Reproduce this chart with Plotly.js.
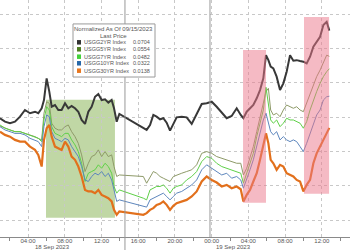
<!DOCTYPE html>
<html>
<head>
<meta charset="utf-8">
<script src="https://cdn.plot.ly/plotly-3.0.1.min.js"></script>
<style>html,body{margin:0;padding:0;background:#fff;}#chart{width:350px;height:250px;}</style>
</head>
<body>
<div id="chart"></div>
<script>
// Hours since 18 Sep 2023 00:00
const hours = [0.95,1.49,2.04,2.58,3.13,3.67,4.22,4.76,5.12,5.49,
5.74,6.03,6.32,6.58,6.94,7.30,7.66,8.03,8.39,8.75,
9.12,9.48,9.84,10.21,10.57,10.93,11.30,11.66,12.02,12.39,
12.75,13.11,13.37,13.66,13.95,
16.56,16.92,17.29,17.65,18.01,18.38,18.74,19.10,19.47,19.83,
20.19,20.74,21.28,21.83,22.37,22.92,23.46,24.01,24.55,25.10,
25.64,26.18,26.73,27.17,27.46,27.82,28.18,28.54,28.91,29.27,
29.63,29.92,30.18,30.43,30.72,31.08,31.45,31.81,32.17,32.54,
32.90,33.26,33.63,33.99,34.35,34.72,35.08,35.44,35.81,36.17,
36.53,36.82];

const usgg2yr = [0.0194,0.0174,0.0165,0.0174,0.0203,0.0242,0.0223,0.0232,0.0223,0.0252,
0.0300,0.0426,0.0349,0.0261,0.0271,0.0242,0.0242,0.0281,0.0252,0.0265,
0.0252,0.0232,0.0184,0.0161,0.0232,0.0261,0.0319,0.0335,0.0300,0.0304,
0.0285,0.0300,0.0252,0.0174,0.0219,
0.0141,0.0126,0.0155,0.0213,0.0203,0.0188,0.0194,0.0168,0.0122,0.0165,
0.0199,0.0203,0.0199,0.0161,0.0223,0.0277,0.0281,0.0290,0.0261,0.0227,
0.0194,0.0207,0.0252,0.0213,0.0194,0.0232,0.0252,0.0271,0.0310,0.0358,
0.0426,0.0561,0.0532,0.0494,0.0484,0.0436,0.0358,0.0397,0.0465,0.0561,
0.0529,0.0532,0.0527,0.0523,0.0513,0.0552,0.0610,0.0639,0.0668,0.0736,
0.0755,0.0704];

const usgg5yr = [0.0149,0.0136,0.0126,0.0116,0.0116,0.0106,0.0097,0.0087,0.0077,0.0068,
0.0223,0.0290,0.0281,0.0165,0.0136,0.0126,0.0126,0.0145,0.0155,0.0116,
0.0087,0.0048,-0.0019,-0.0116,-0.0068,-0.0029,-0.0019,0.0010,-0.0029,0.0000,
-0.0029,-0.0019,-0.0087,-0.0145,-0.0136,
-0.0145,-0.0184,-0.0145,-0.0116,-0.0126,-0.0145,-0.0155,-0.0165,-0.0174,-0.0145,
-0.0136,-0.0126,-0.0116,-0.0106,-0.0077,-0.0010,0.0000,-0.0010,-0.0029,-0.0039,
-0.0048,-0.0058,-0.0068,-0.0068,-0.0136,-0.0097,-0.0029,0.0029,0.0116,0.0194,
0.0281,0.0349,0.0368,0.0242,0.0213,0.0223,0.0203,0.0242,0.0271,0.0261,
0.0252,0.0261,0.0242,0.0232,0.0281,0.0339,0.0378,0.0436,0.0474,0.0523,
0.0561,0.0554];

const usgg7yr = [0.0155,0.0136,0.0126,0.0116,0.0116,0.0106,0.0097,0.0087,0.0077,0.0058,
0.0184,0.0261,0.0242,0.0145,0.0106,0.0097,0.0087,0.0106,0.0106,0.0068,
0.0039,0.0000,-0.0068,-0.0174,-0.0126,-0.0116,-0.0106,-0.0077,-0.0097,-0.0068,
-0.0087,-0.0126,-0.0203,-0.0242,-0.0223,
-0.0271,-0.0281,-0.0223,-0.0213,-0.0203,-0.0203,-0.0194,-0.0213,-0.0242,-0.0213,
-0.0203,-0.0194,-0.0165,-0.0145,-0.0116,-0.0058,-0.0029,-0.0039,-0.0068,-0.0087,
-0.0097,-0.0106,-0.0116,-0.0126,-0.0184,-0.0126,-0.0068,-0.0010,0.0087,0.0165,
0.0242,0.0374,0.0261,0.0184,0.0165,0.0184,0.0145,0.0165,0.0194,0.0184,
0.0184,0.0174,0.0165,0.0136,0.0174,0.0242,0.0300,0.0349,0.0397,0.0436,
0.0465,0.0482];

const usgg10yr = [0.0145,0.0126,0.0116,0.0106,0.0106,0.0097,0.0077,0.0068,0.0058,0.0029,
0.0145,0.0213,0.0203,0.0116,0.0077,0.0068,0.0058,0.0077,0.0068,0.0029,
0.0000,-0.0029,-0.0087,-0.0165,-0.0174,-0.0145,-0.0126,-0.0136,-0.0116,-0.0145,
-0.0126,-0.0165,-0.0223,-0.0290,-0.0281,
-0.0319,-0.0323,-0.0281,-0.0271,-0.0261,-0.0252,-0.0242,-0.0261,-0.0281,-0.0261,
-0.0242,-0.0232,-0.0213,-0.0194,-0.0165,-0.0106,-0.0077,-0.0097,-0.0116,-0.0136,
-0.0126,-0.0155,-0.0145,-0.0165,-0.0213,-0.0165,-0.0106,-0.0048,0.0029,0.0106,
0.0184,0.0223,0.0165,0.0116,0.0097,0.0116,0.0068,0.0087,0.0068,0.0058,
0.0068,0.0058,0.0029,0.0000,0.0048,0.0106,0.0165,0.0213,0.0242,0.0300,
0.0319,0.0322];

const usgg30yr = [0.0116,0.0097,0.0087,0.0068,0.0058,0.0058,0.0029,0.0010,-0.0019,-0.0087,
0.0068,0.0136,0.0155,0.0087,0.0029,0.0019,0.0010,0.0058,0.0029,-0.0029,
-0.0048,-0.0087,-0.0145,-0.0223,-0.0232,-0.0232,-0.0242,-0.0223,-0.0252,-0.0261,
-0.0271,-0.0290,-0.0339,-0.0368,-0.0348,
-0.0368,-0.0358,-0.0339,-0.0329,-0.0310,-0.0304,-0.0290,-0.0310,-0.0339,-0.0316,
-0.0300,-0.0290,-0.0281,-0.0261,-0.0232,-0.0174,-0.0145,-0.0165,-0.0180,-0.0203,
-0.0194,-0.0213,-0.0203,-0.0219,-0.0290,-0.0252,-0.0223,-0.0174,-0.0126,-0.0048,
0.0029,0.0106,0.0048,-0.0048,-0.0068,-0.0106,-0.0077,-0.0087,-0.0126,-0.0136,
-0.0145,-0.0165,-0.0174,-0.0232,-0.0194,-0.0165,-0.0068,-0.0010,0.0029,0.0068,
0.0106,0.0138];

const seriesNames = ['USGG2YR Index','USGG5YR Index','USGG7YR Index','USGG10YR Index','USGG30YR Index'];
const seriesData = [usgg2yr, usgg5yr, usgg7yr, usgg10yr, usgg30yr];
const lineColors = ['#383838','#8e9a68','#5fd048','#5d86bd','#e2701c'];
const swatchColors = ['#333333','#4f7d22','#44d13a','#2667a8','#e8771f'];
const lineWidths = [2,1,1,1,2.2];

const tickVals = [4,8,12,16,20,24,28,32,36];
const tickText = ['04:00','08:00','12:00','16:00','20:00','00:00','04:00','08:00','12:00'];
const dateLabels = ['18 Sep 2023','19 Sep 2023'];
const dateLabelHours = [6.72,26.33];

const legendTitle = 'Normalized As Of 09/15/2023';
const legendSub = 'Last Price';

// draw order: olive, green, blue, orange, black on top
const order = [1,2,3,4,0];
const traces = order.map(i => ({
  x: hours, y: seriesData[i], type: 'scatter', mode: 'lines',
  name: seriesNames[i], line: {color: lineColors[i], width: lineWidths[i]},
  showlegend: false, hoverinfo: 'skip'
}));

const font = 'Liberation Sans, Arial, sans-serif';
const txtColor = '#555';
const fs = 6;
const fsLeg = 5.5;

const shapes = [
  {type:'rect', xref:'x', yref:'y', x0:5.96, x1:13.47, y0:-0.0385, y1:0.0301,
   fillcolor:'rgba(150,188,105,0.6)', line:{width:0}, layer:'below'},
  {type:'rect', xref:'x', yref:'y', x0:27.42, x1:29.92, y0:-0.0298, y1:0.0591,
   fillcolor:'rgba(235,118,137,0.5)', line:{width:0}, layer:'above'},
  {type:'rect', xref:'x', yref:'y', x0:34.06, x1:36.79, y0:-0.0246, y1:0.0783,
   fillcolor:'rgba(235,118,137,0.5)', line:{width:0}, layer:'above'},
  {type:'line', xref:'x', yref:'paper', x0:14.56, x1:14.56, y0:-0.06, y1:1,
   line:{color:'#999', width:1}},
  {type:'line', xref:'x', yref:'paper', x0:23.82, x1:23.82, y0:0, y1:1,
   line:{color:'#999', width:1}},
  {type:'rect', xref:'paper', yref:'paper', x0:0.2086, x1:0.4429, y0:0.675, y1:0.899,
   fillcolor:'#ffffff', line:{color:'#9a9a9a', width:1}, layer:'above'}
];

const annotations = [
  {xref:'paper', yref:'paper', x:0.3257, y:0.8776, text:legendTitle, showarrow:false,
   xanchor:'center', yanchor:'middle', font:{family:font, size:fs, color:txtColor}},
  {xref:'paper', yref:'paper', x:0.3257, y:0.848, text:legendSub, showarrow:false,
   xanchor:'center', yanchor:'middle', font:{family:font, size:fs, color:txtColor}}
];
const rowY = [0.8215,0.792,0.7608,0.733,0.7017];
seriesNames.forEach((nm, i) => {
  const d = seriesData[i];
  shapes.push({type:'rect', xref:'paper', yref:'paper', x0:0.22, x1:0.2314,
    y0:rowY[i]-0.0095, y1:rowY[i]+0.0095, fillcolor:swatchColors[i], line:{width:0}, layer:'above'});
  annotations.push({xref:'paper', yref:'paper', x:0.2343, y:rowY[i], text:nm, showarrow:false,
    xanchor:'left', yanchor:'middle', font:{family:font, size:fsLeg, color:txtColor}});
  annotations.push({xref:'paper', yref:'paper', x:0.4343, y:rowY[i], text:d[d.length-1].toFixed(4), showarrow:false,
    xanchor:'right', yanchor:'middle', font:{family:font, size:fsLeg, color:txtColor}});
});
dateLabels.forEach((t, i) => {
  annotations.push({xref:'x', yref:'paper', x:dateLabelHours[i], y:-0.042, text:t, showarrow:false,
    xanchor:'center', yanchor:'middle', font:{family:font, size:fs, color:txtColor}});
});

const layout = {
  width:350, height:250,
  margin:{l:0, r:0, t:0, b:13, pad:0},
  paper_bgcolor:'#ffffff', plot_bgcolor:'#ffffff',
  showlegend:false,
  xaxis:{range:[0.95,39.07], tickvals:tickVals, ticktext:tickText, ticks:'',
    ticklabelstandoff:-2,
    showgrid:true, gridcolor:'#c8c8c8', griddash:'dot', gridwidth:1,
    showline:true, linecolor:'#8a8a8a', linewidth:1, zeroline:false,
    tickfont:{family:font, size:fs, color:txtColor},
    minor:{tickvals:[2,6,10,14,18,22,26,30,34,38], ticks:'outside', ticklen:3, tickcolor:'#8a8a8a', showgrid:false}},
  yaxis:{range:[-0.0497,0.0882], dtick:0.02, tick0:0, showticklabels:false, ticks:'',
    showgrid:true, gridcolor:'#c8c8c8', griddash:'dot', gridwidth:1, zeroline:false, showline:false},
  shapes:shapes, annotations:annotations
};

Plotly.newPlot('chart', traces, layout, {displayModeBar:false, staticPlot:true});
</script>
</body>
</html>
